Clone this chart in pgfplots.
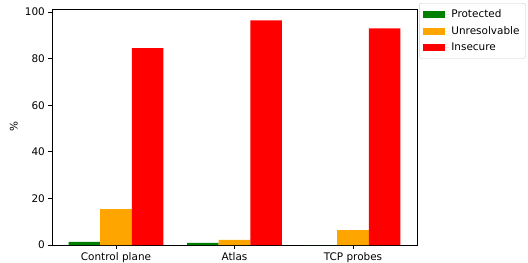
\documentclass[border=0pt]{standalone}
\usepackage{pgfplots}
\pgfplotsset{compat=1.18}
\usepackage{fontspec}
\setmainfont{DejaVu Sans}
\definecolor{mgreen}{RGB}{0,128,0}
\definecolor{morange}{RGB}{255,165,0}
\definecolor{mred}{RGB}{255,0,0}
\begin{document}
\fontsize{10.5}{12.5}\selectfont
\begin{tikzpicture}
\useasboundingbox (0,0) rectangle (528bp,263bp);
\begin{axis}[
  at={(52bp,18bp)}, anchor=south west,
  scale only axis, width=365bp, height=236bp,
  xmin=-0.54, xmax=2.54, ymin=0, ymax=101.3,
  xtick={0,1,2}, xticklabels={Control plane, Atlas, TCP probes},
  ytick={0,20,40,60,80,100},
  tick align=outside, tick pos=left,
  major tick length=3.5bp,
  axis line style={line width=0.8bp},
  every tick/.style={black, line width=0.8bp},
  /pgf/number format/assume math mode=true,
  ticklabel style={font=\fontsize{10.5}{12.5}\selectfont},
  ylabel={\%},
  ylabel style={font=\fontsize{10.5}{12.5}\selectfont},
  legend style={at={(1.006,1.025)}, anchor=north west, draw=black!20, rounded corners=2pt,
    font=\fontsize{10.5}{12.5}\selectfont, row sep=3.5bp, inner xsep=4bp, inner ysep=4bp},
  legend cell align=left,
  legend image code/.code={\fill[#1, sharp corners] (0bp,-3.5bp) rectangle (22bp,3.5bp); \path (0bp,0bp) -- (26bp,0bp);},
]
\addplot[ybar, bar width=0.2667, bar shift=-0.2667, fill=mgreen, draw=none] coordinates {(0,1.3) (1,0.9) (2,0)};
\addplot[ybar, bar width=0.2667, bar shift=0, fill=morange, draw=none] coordinates {(0,15.4) (1,2.2) (2,6.4)};
\addplot[ybar, bar width=0.2667, bar shift=0.2667, fill=mred, draw=none] coordinates {(0,84.5) (1,96.4) (2,93.0)};
\legend{Protected, Unresolvable, Insecure}
\end{axis}
\end{tikzpicture}
\end{document}
